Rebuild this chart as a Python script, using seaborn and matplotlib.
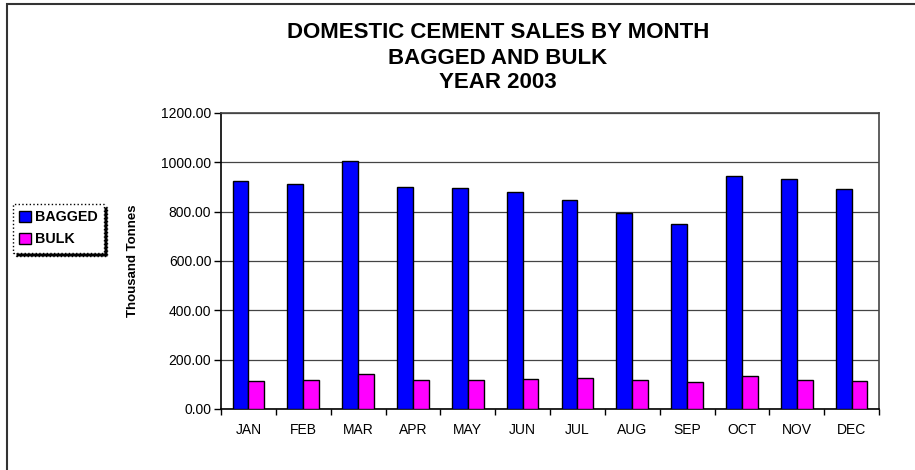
import pandas as pd
import matplotlib
matplotlib.use("Agg")
import matplotlib.pyplot as plt
import matplotlib.patches as mpatches
import seaborn as sns

months = ["JAN", "FEB", "MAR", "APR", "MAY", "JUN",
          "JUL", "AUG", "SEP", "OCT", "NOV", "DEC"]
bagged = [926, 914, 1005, 901, 895, 878, 846, 793, 748, 945, 934, 893]
bulk = [114, 116, 140, 119, 116, 122, 124, 116, 108, 135, 116, 114]
series = ["BAGGED", "BULK"]
colors = ["#0000FF", "#FF00FF"]
y_ticks = [0, 200, 400, 600, 800, 1000, 1200]

df = pd.DataFrame({
    "month": months * 2,
    "value": bagged + bulk,
    "type": [series[0]] * len(months) + [series[1]] * len(months),
})

sns.set_style("white")
plt.rcParams["font.family"] = ["Liberation Sans", "DejaVu Sans"]
plt.rcParams["text.color"] = "black"
plt.rcParams["axes.labelcolor"] = "black"
plt.rcParams["xtick.color"] = "black"
plt.rcParams["ytick.color"] = "black"

fig = plt.figure(figsize=(9.15, 4.70), dpi=100)
ax = fig.add_axes([221 / 915, 61 / 470, 658 / 915, 296 / 470])

sns.barplot(data=df, x="month", y="value", hue="type", order=months,
            hue_order=series, palette=colors, width=0.58, gap=0,
            edgecolor="black", linewidth=1, saturation=1, ax=ax, zorder=3)

ax.set_xlim(-0.5, len(months) - 0.5)
ax.set_ylim(0, 1200)
ax.set_yticks(y_ticks)
ax.set_yticklabels([f"{v:.2f}" for v in y_ticks], fontsize=10)
ax.yaxis.grid(True, color="#444444", linewidth=0.9, zorder=0)
ax.set_axisbelow(True)
ax.tick_params(axis="y", direction="out", length=5, width=1, color="black",
               left=True, pad=2)
ax.tick_params(axis="x", which="major", length=0, labelsize=10, pad=10)
ax.set_xticks([i + 0.5 for i in range(-1, len(months))], minor=True)
ax.tick_params(axis="x", which="minor", direction="out", length=4,
               width=1, color="black", bottom=True)
ax.set_xlabel("")
ax.set_ylabel("Thousand Tonnes", fontsize=9.5, fontweight="bold", labelpad=16)

ax.spines["left"].set_color("black")
ax.spines["bottom"].set_color("black")
ax.spines["top"].set_color("#444444")
ax.spines["right"].set_color("#444444")
for s in ax.spines.values():
    s.set_linewidth(1.2)

ax.get_legend().remove()
handles = [mpatches.Patch(facecolor=c, edgecolor="black", label=l)
           for c, l in zip(colors, series)]
leg = fig.legend(handles=handles, loc="upper left",
                 bbox_to_anchor=(13 / 915, 1 - 204 / 470), borderaxespad=0,
                 frameon=True, shadow={"color": "black", "alpha": 1},
                 fancybox=False, handlelength=0.8, handleheight=0.8,
                 handletextpad=0.3, borderpad=0.45, labelspacing=0.55,
                 prop={"weight": "bold", "size": 10.3})
leg.get_frame().set_linestyle(":")
leg.get_frame().set_edgecolor("black")
leg.get_frame().set_linewidth(1)

fig.text(498 / 915, 1 - 33 / 470, "DOMESTIC CEMENT SALES BY MONTH",
         ha="center", va="center", fontsize=16, fontweight="bold")
fig.text(498 / 915, 1 - 58 / 470, "BAGGED AND BULK",
         ha="center", va="center", fontsize=16, fontweight="bold")
fig.text(498 / 915, 1 - 83 / 470, "YEAR 2003",
         ha="center", va="center", fontsize=16, fontweight="bold")

frame = mpatches.Rectangle((7 / 915, -0.05), 1.0, 1 - 4 / 470 + 0.05,
                           transform=fig.transFigure, fill=False,
                           edgecolor="#333333", linewidth=1.5)
fig.patches.append(frame)

fig.savefig("out.png", dpi=100)
